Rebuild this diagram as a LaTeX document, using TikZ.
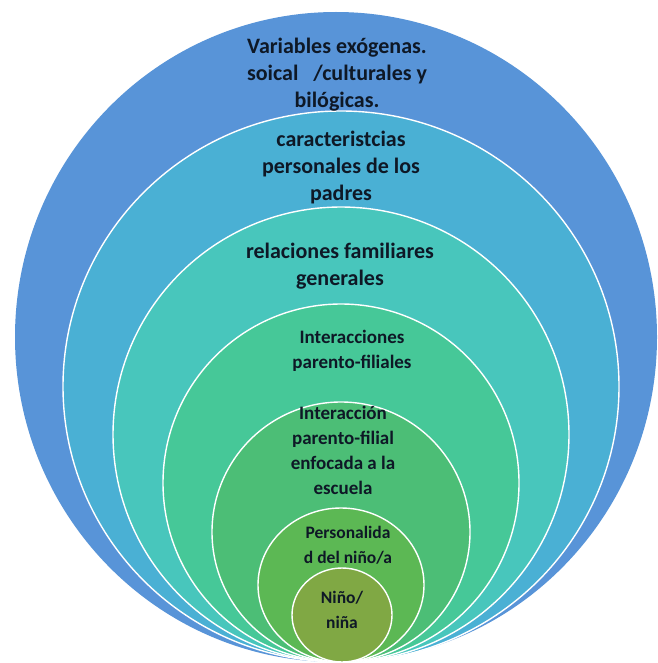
\documentclass[tikz,border=0pt]{standalone}
\usepackage{fontspec}
\setmainfont{Carlito}
\definecolor{cA}{RGB}{88,148,216}
\definecolor{cB}{RGB}{74,176,212}
\definecolor{cC}{RGB}{72,198,188}
\definecolor{cD}{RGB}{70,200,152}
\definecolor{cE}{RGB}{76,190,118}
\definecolor{cF}{RGB}{92,184,84}
\definecolor{cG}{RGB}{128,168,68}
\definecolor{txt}{RGB}{14,24,38}
\tikzset{
  ring/.style={draw=white, line width=1.4pt},
  big/.style={font=\bfseries\fontsize{22}{27}\selectfont, text=txt, align=center, inner sep=0pt},
  mid/.style={font=\bfseries\fontsize{19}{25}\selectfont, text=txt, align=center, inner sep=0pt},
  small/.style={font=\bfseries\fontsize{17.5}{25}\selectfont, text=txt, align=center, inner sep=0pt}
}
\begin{document}
\begin{tikzpicture}[x=1pt,y=-1pt]
\useasboundingbox (0,0) rectangle (657,663);
\fill[white] (0,0) rectangle (657,663);
\fill[cA] (336,337) ellipse [x radius=321, y radius=325];
\filldraw[ring, fill=cB] (341,386.5) ellipse [x radius=278, y radius=275.5];
\filldraw[ring, fill=cC] (341,434.5) ellipse [x radius=228, y radius=227.5];
\filldraw[ring, fill=cD] (341,483) ellipse [x radius=178, y radius=179];
\filldraw[ring, fill=cE] (341,532) ellipse [x radius=129, y radius=130];
\filldraw[ring, fill=cF] (341,585) ellipse [x radius=83, y radius=77];
\filldraw[ring, fill=cG] (342,615) ellipse [x radius=50, y radius=47];
\node[big] (t1) at (337,75) {Variables exógenas.\\soical \ \ /culturales y\\bilógicas.};
\node[big] (t2) at (341,168) {caracteristcias\\personales de los\\padres};
\node[big] (t3) at (340,266) {relaciones familiares\\generales};
\node[mid] (t4) at (352,351) {Interacciones\\parento-filiales};
\node[mid] (t5) at (343,450) {Interacción\\parento-filial\\enfocada a la\\escuela};
\node[small] (t6) at (348,545) {Personalida\\d del niño/a};
\node[small] (t7) at (342,610) {Niño/\\niña};
\end{tikzpicture}
\end{document}
